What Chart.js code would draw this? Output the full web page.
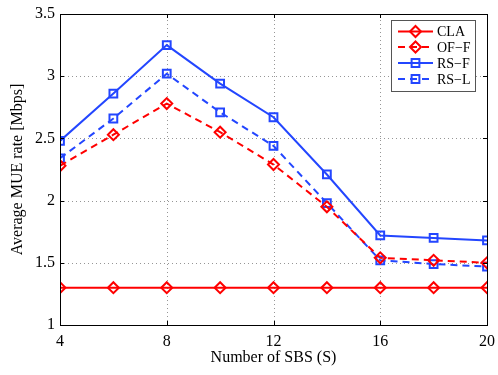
<!DOCTYPE html>
<html>
<head>
<meta charset="utf-8">
<script src="https://cdn.jsdelivr.net/npm/chart.js@4"></script>
<style>
html,body{margin:0;padding:0;background:#fff;}
#wrap{width:498px;height:375px;position:relative;}
</style>
</head>
<body>
<div id="wrap"><canvas id="c" width="498" height="375"></canvas></div>
<script>
const xValues = [4, 6, 8, 10, 12, 14, 16, 18, 20];
const seriesNames = ["CLA", "OF\u2212F", "RS\u2212F", "RS\u2212L"];
const claValues = [1.30, 1.30, 1.30, 1.30, 1.30, 1.30, 1.30, 1.30, 1.30];
const offValues = [2.28, 2.53, 2.78, 2.55, 2.29, 1.95, 1.54, 1.52, 1.50];
const rsfValues = [2.48, 2.86, 3.25, 2.94, 2.67, 2.21, 1.72, 1.70, 1.68];
const rslValues = [2.34, 2.66, 3.02, 2.71, 2.44, 1.98, 1.52, 1.49, 1.47];
const xTicks = [4, 8, 12, 16, 20];
const yTicks = [1, 1.5, 2, 2.5, 3, 3.5];

const RED = 'rgb(255,0,0)';
const BLUE = 'rgb(35,70,255)';
const DASH = [7, 5];

function pts(vals){ return xValues.map((x,i)=>({x:x, y:vals[i]})); }

const datasets = [
  {label: seriesNames[0], data: pts(claValues), borderColor: RED, pointStyle: 'rectRot', borderDash: []},
  {label: seriesNames[1], data: pts(offValues), borderColor: RED, pointStyle: 'rectRot', borderDash: DASH},
  {label: seriesNames[2], data: pts(rsfValues), borderColor: BLUE, pointStyle: 'rect', borderDash: []},
  {label: seriesNames[3], data: pts(rslValues), borderColor: BLUE, pointStyle: 'rect', borderDash: DASH}
].map(d => Object.assign(d, {
  borderWidth: 2,
  pointRadius: 5.5,
  pointBorderWidth: 2,
  pointBackgroundColor: 'rgba(0,0,0,0)',
  pointBorderColor: d.borderColor,
  tension: 0,
  fill: false
}));

const SERIF = "'Liberation Serif', 'DejaVu Serif', serif";

const gridPlugin = {
  id: 'dottedGrid',
  beforeDatasetsDraw(chart) {
    const {ctx, chartArea: a} = chart;
    const xs = chart.scales.x, ys = chart.scales.y;
    ctx.save();
    ctx.strokeStyle = 'rgb(150,150,150)';
    ctx.lineWidth = 1;
    ctx.setLineDash([1, 3]);
    xTicks.forEach(t => {
      const px = Math.round(xs.getPixelForValue(t)) + 0.5;
      ctx.beginPath(); ctx.moveTo(px, a.bottom); ctx.lineTo(px, a.top); ctx.stroke();
    });
    yTicks.forEach(t => {
      const py = Math.round(ys.getPixelForValue(t)) + 0.5;
      ctx.beginPath(); ctx.moveTo(a.left, py); ctx.lineTo(a.right, py); ctx.stroke();
    });
    ctx.restore();
  }
};

const framePlugin = {
  id: 'frame',
  afterDraw(chart) {
    const {ctx, chartArea: a} = chart;
    ctx.save();
    ctx.strokeStyle = '#000';
    ctx.lineWidth = 1;
    const xs = chart.scales.x, ys = chart.scales.y;
    xTicks.forEach(t => {
      const px = Math.round(xs.getPixelForValue(t)) + 0.5;
      ctx.beginPath(); ctx.moveTo(px, a.bottom); ctx.lineTo(px, a.bottom - 4); ctx.stroke();
      ctx.beginPath(); ctx.moveTo(px, a.top); ctx.lineTo(px, a.top + 4); ctx.stroke();
    });
    yTicks.forEach(t => {
      const py = Math.round(ys.getPixelForValue(t)) + 0.5;
      ctx.beginPath(); ctx.moveTo(a.left, py); ctx.lineTo(a.left + 4, py); ctx.stroke();
      ctx.beginPath(); ctx.moveTo(a.right, py); ctx.lineTo(a.right - 4, py); ctx.stroke();
    });
    ctx.strokeRect(Math.round(a.left) + 0.5, Math.round(a.top) + 0.5, Math.round(a.right - a.left), Math.round(a.bottom - a.top));

    // legend
    const bx = 391.5, by = 20.5, bw = 84, bh = 71;
    ctx.fillStyle = '#fff';
    ctx.fillRect(bx, by, bw, bh);
    ctx.strokeStyle = '#555';
    ctx.lineWidth = 1;
    ctx.strokeRect(bx, by, bw, bh);
    const rows = [31.5, 47, 63, 79];
    ctx.font = "14px " + SERIF;
    ctx.textBaseline = 'middle';
    ctx.textAlign = 'left';
    datasets.forEach((d, i) => {
      const y = rows[i];
      ctx.strokeStyle = d.borderColor;
      ctx.lineWidth = 2;
      ctx.setLineDash(d.borderDash);
      ctx.beginPath(); ctx.moveTo(398, y); ctx.lineTo(433, y); ctx.stroke();
      ctx.setLineDash([]);
      ctx.fillStyle = 'rgba(0,0,0,0)';
      ctx.strokeStyle = d.borderColor;
      ctx.lineWidth = 2;
      Chart.helpers.drawPoint(ctx, {pointStyle: d.pointStyle, radius: 5.5, borderWidth: 2}, 415.5, y);
      ctx.fillStyle = '#000';
      ctx.fillText(d.label, 437, y + 1);
    });
    ctx.restore();
  }
};

new Chart(document.getElementById('c'), {
  type: 'line',
  data: {datasets},
  options: {
    responsive: false,
    animation: false,
    devicePixelRatio: 1,
    layout: {padding: {left: 8, top: 14, right: 11, bottom: 8}},
    plugins: {legend: {display: false}, tooltip: {enabled: false}},
    scales: {
      x: {
        type: 'linear', min: 4, max: 20,
        afterFit(s) { s.height = 42; s.paddingRight = 0; s.paddingLeft = 0; },
        afterBuildTicks(s) { s.ticks = xTicks.map(v => ({value: v})); },
        ticks: {color: '#000', font: {family: SERIF, size: 16}, padding: 7},
        grid: {display: false, drawTicks: false},
        border: {display: true, color: '#000'},
        title: {display: true, text: 'Number of SBS (S)', color: '#000', font: {family: SERIF, size: 16}, padding: {top: 0, bottom: 0}}
      },
      y: {
        type: 'linear', min: 1, max: 3.5,
        afterFit(s) { s.width = 52; s.paddingTop = 0; s.paddingBottom = 0; },
        afterBuildTicks(s) { s.ticks = yTicks.map(v => ({value: v})); },
        ticks: {color: '#000', font: {family: SERIF, size: 16}, padding: 5, callback: v => String(v)},
        grid: {display: false, drawTicks: false},
        border: {display: true, color: '#000'},
        title: {display: true, text: 'Average MUE rate [Mbps]', color: '#000', font: {family: SERIF, size: 16}, padding: {top: 0, bottom: 0}}
      }
    }
  },
  plugins: [gridPlugin, framePlugin]
});
</script>
</body>
</html>
